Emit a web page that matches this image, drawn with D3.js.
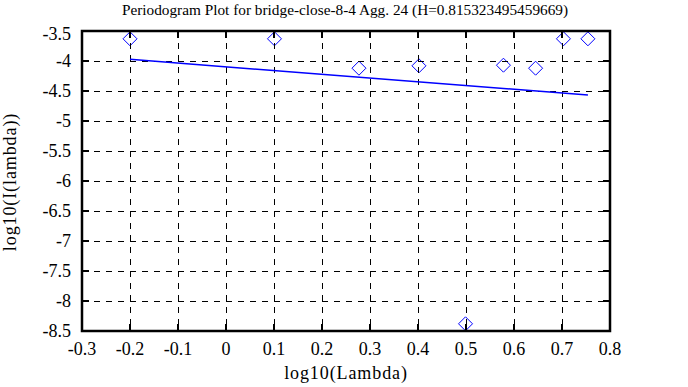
<!DOCTYPE html>
<html><head><meta charset="utf-8">
<script src="https://cdn.jsdelivr.net/npm/d3@7"></script>
<style>body{margin:0;background:#fff}svg{display:block}text{font-family:"Liberation Serif","DejaVu Serif",serif;fill:#000}</style>
</head><body>
<svg id="c" width="688" height="387"></svg>
<script>
const title = "Periodogram Plot for bridge-close-8-4 Agg. 24 (H=0.815323495459669)";
const xLabel = "log10(Lambda)";
const yLabel = "log10(I(lambda))";
const xTicks = [-0.3,-0.2,-0.1,0,0.1,0.2,0.3,0.4,0.5,0.6,0.7,0.8];
const yTicks = [-3.5,-4,-4.5,-5,-5.5,-6,-6.5,-7,-7.5,-8,-8.5];
const logLambda = [-0.2, 0.101, 0.277, 0.402, 0.499, 0.578, 0.645, 0.703, 0.754];
const logI = [-3.63, -3.63, -4.12, -4.08, -8.38, -4.07, -4.12, -3.63, -3.63];
const fitX = [-0.2, 0.754];
const fitY = [-3.972, -4.567];

const svg = d3.select("#c");
const L=82, R=610, T=31, B=331;
const x = d3.scaleLinear().domain([-0.3,0.8]).range([L,R]);
const y = d3.scaleLinear().domain([-8.5,-3.5]).range([B,T]);

// points
const pts = svg.append("g");
logLambda.forEach((v,i)=>{
  const cx=x(v), cy=y(logI[i]);
  pts.append("path").attr("d",`M${cx},${cy-7}L${cx+7},${cy}L${cx},${cy+7}L${cx-7},${cy}Z`)
    .attr("fill","none").attr("stroke","#0000ff").attr("stroke-width",1);
});

// grid
const g = svg.append("g");
xTicks.slice(1,-1).forEach(t=>{
  g.append("line").attr("x1",x(t)).attr("x2",x(t)).attr("y1",T).attr("y2",B)
   .attr("stroke","#000").attr("stroke-width",1).attr("stroke-dasharray","6,6").attr("shape-rendering","crispEdges");
});
yTicks.slice(1,-1).forEach(t=>{
  g.append("line").attr("x1",L).attr("x2",R).attr("y1",y(t)).attr("y2",y(t))
   .attr("stroke","#000").attr("stroke-width",1).attr("stroke-dasharray","6,6").attr("shape-rendering","crispEdges");
});

// fit line
svg.append("line").attr("x1",x(fitX[0])).attr("y1",y(fitY[0])).attr("x2",x(fitX[1])).attr("y2",y(fitY[1]))
  .attr("stroke","#0000ff").attr("stroke-width",1.5);

// inward ticks
xTicks.slice(1,-1).forEach(t=>{
  g.append("line").attr("x1",x(t)).attr("x2",x(t)).attr("y1",T).attr("y2",T+7).attr("stroke","#000").attr("stroke-width",2);
  g.append("line").attr("x1",x(t)).attr("x2",x(t)).attr("y1",B).attr("y2",B-7).attr("stroke","#000").attr("stroke-width",2);
});
yTicks.slice(1,-1).forEach(t=>{
  g.append("line").attr("x1",L).attr("x2",L+7).attr("y1",y(t)).attr("y2",y(t)).attr("stroke","#000").attr("stroke-width",2);
  g.append("line").attr("x1",R).attr("x2",R-7).attr("y1",y(t)).attr("y2",y(t)).attr("stroke","#000").attr("stroke-width",2);
});

// frame
svg.append("rect").attr("x",L).attr("y",T).attr("width",R-L).attr("height",B-T)
  .attr("fill","none").attr("stroke","#000").attr("stroke-width",2.5);

// tick labels
xTicks.forEach(t=>{
  svg.append("text").attr("x",x(t)).attr("y",355).attr("text-anchor","middle").attr("font-size",18)
    .text(String(t));
});
yTicks.forEach(t=>{
  svg.append("text").attr("x",71).attr("y",Math.max(y(t)+6,40)).attr("text-anchor","end").attr("font-size",18)
    .text(String(t));
});

svg.append("text").attr("x",345).attr("y",15).attr("text-anchor","middle").attr("font-size",15.3).text(title);
svg.append("text").attr("x",346).attr("y",379).attr("text-anchor","middle").attr("font-size",18).attr("letter-spacing",0.9).text(xLabel);
svg.append("text").attr("transform","translate(16,182) rotate(-90)").attr("text-anchor","middle").attr("font-size",18).attr("letter-spacing",0.9).text(yLabel);
</script>
</body></html>
